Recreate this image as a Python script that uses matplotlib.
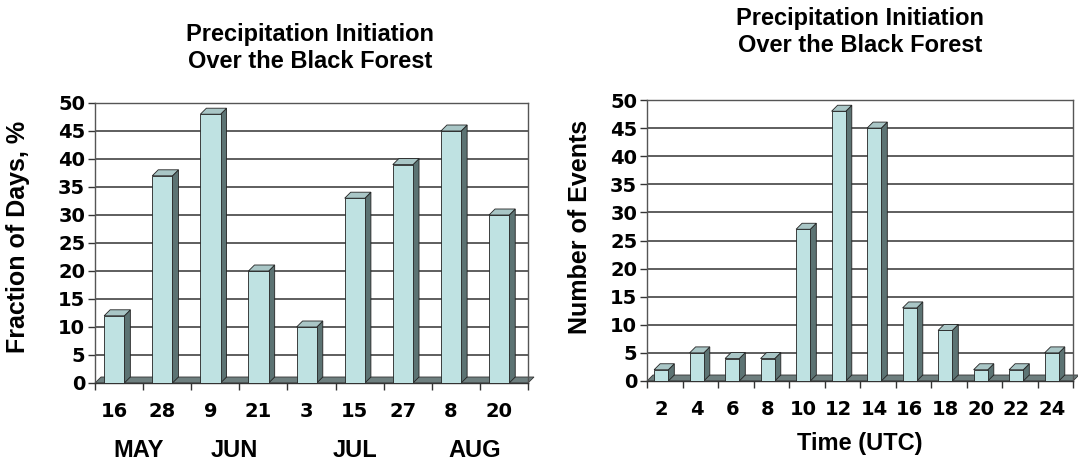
import matplotlib.pyplot as plt
from matplotlib.patches import Polygon

plt.rcParams['font.family'] = ['DejaVu Sans']
plt.rcParams['font.weight'] = 'bold'

# left chart data
date_labels = ['16', '28', '9', '21', '3', '15', '27', '8', '20']
fraction_days = [12, 37, 48, 20, 10, 33, 39, 45, 30]
month_labels = ['MAY', 'JUN', 'JUL', 'AUG']
month_pos = [0.5, 2.5, 5.0, 7.5]

# right chart data
hours = ['2', '4', '6', '8', '10', '12', '14', '16', '18', '20', '22', '24']
n_events = [2, 5, 4, 4, 27, 48, 45, 13, 9, 2, 2, 5]

title = 'Precipitation Initiation\nOver the Black Forest'
FRONT = '#bfe2e2'
SIDE = '#5c7373'
TOP = '#a9c6c6'
W, H = 1078, 466
FS = 14
ARIAL = ['Liberation Sans', 'DejaVu Sans']


def bars3d(ax, vals, width, depth_px, ax_w_px, ax_h_px, ymax):
    n = len(vals)
    dx = depth_px / (ax_w_px / n)
    dy = depth_px / (ax_h_px / ymax)
    # floor
    ax.add_patch(Polygon([(-0.5, 0), (n - 0.5, 0), (n - 0.5 + dx, dy), (-0.5 + dx, dy)],
                         closed=True, fc='#6e7f7f', ec='#333333', lw=0.6, zorder=2, clip_on=False))
    for i, v in enumerate(vals):
        x0 = i - 0.1 - width / 2
        x1 = x0 + width
        ax.add_patch(Polygon([(x1, 0), (x1 + dx, dy), (x1 + dx, v + dy), (x1, v)],
                             closed=True, fc=SIDE, ec='#222222', lw=0.6, zorder=3))
        ax.add_patch(Polygon([(x0, v), (x0 + dx, v + dy), (x1 + dx, v + dy), (x1, v)],
                             closed=True, fc=TOP, ec='#222222', lw=0.6, zorder=3))
        ax.bar(x0, v, width=width, align='edge', color=FRONT, edgecolor='#222222',
               linewidth=0.6, zorder=4)


def style(ax, labels, ymax):
    n = len(labels)
    ax.set_xlim(-0.5, n - 0.5)
    ax.set_ylim(0, ymax)
    ax.set_yticks(range(0, ymax + 1, 5))
    ax.set_xticks([i - 0.1 for i in range(n)])
    ax.set_xticklabels(labels, fontweight='bold')
    ax.set_yticklabels([str(v) for v in range(0, ymax + 1, 5)], fontweight='bold')
    ax.set_xticks([i - 0.5 for i in range(n + 1)], minor=True)
    ax.tick_params(axis='x', which='major', length=0, pad=14, labelsize=FS)
    ax.tick_params(axis='x', which='minor', length=5, width=1, color='#333333', direction='out')
    ax.tick_params(axis='y', length=5, width=1, color='#333333', labelsize=FS, pad=2)
    ax.grid(axis='y', color='#333333', lw=1.1, zorder=1)
    for s in ax.spines.values():
        s.set_color('#555555')
        s.set_linewidth(1.0)
    ax.spines['bottom'].set_color('#333333')


fig = plt.figure(figsize=(W / 100, H / 100), dpi=100)

# left
l, r, t, b = 95, 528, 103, 383
ax1 = fig.add_axes([l / W, (H - b) / H, (r - l) / W, (b - t) / H])
bars3d(ax1, fraction_days, 0.42, 6, r - l, b - t, 50)
style(ax1, date_labels, 50)
ax1.set_ylabel('Fraction of Days, %', fontsize=18, fontweight='bold', family=ARIAL)
ax1.yaxis.set_label_coords(-0.15, 0.52)
for m, p in zip(month_labels, month_pos):
    ax1.text(p - 0.1, -0.24, m, transform=ax1.get_xaxis_transform(), ha='center', va='center',
             fontsize=17, fontweight='bold', family=ARIAL)
fig.text(310 / W, 1 - 48 / H, title, ha='center', va='center', fontsize=17, fontweight='bold',
         linespacing=1.2, family=ARIAL)

# right
l2, r2, t2, b2 = 647, 1073, 100, 381
ax2 = fig.add_axes([l2 / W, (H - b2) / H, (r2 - l2) / W, (b2 - t2) / H])
bars3d(ax2, n_events, 0.4, 6, r2 - l2, b2 - t2, 50)
style(ax2, hours, 50)
ax2.set_ylabel('Number of Events', fontsize=18, fontweight='bold', family=ARIAL)
ax2.yaxis.set_label_coords(-0.128, 0.548)
ax2.set_xlabel('Time (UTC)', fontsize=17, fontweight='bold', labelpad=9, family=ARIAL)
fig.text(860 / W, 1 - 32 / H, title, ha='center', va='center', fontsize=17, fontweight='bold',
         linespacing=1.2, family=ARIAL)

fig.savefig('out.png', dpi=100)
